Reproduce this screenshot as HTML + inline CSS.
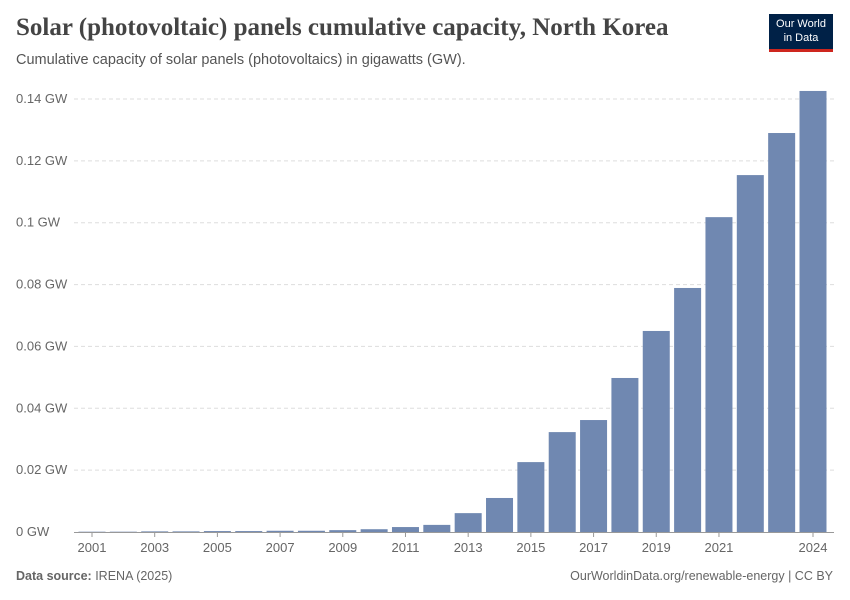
<!DOCTYPE html>
<html><head><meta charset="utf-8">
<style>
body{margin:0;background:#fff;width:850px;height:600px;overflow:hidden;font-family:"Liberation Sans",sans-serif;}
.title{position:absolute;left:16px;top:14px;font-family:"Liberation Serif",serif;font-size:25px;color:#444;font-weight:bold;}
.sub{position:absolute;left:16px;top:52px;font-size:14.5px;color:#555;}
.logo{position:absolute;left:769px;top:14px;width:64px;height:38px;background:#002147;color:#fff;font-size:11px;text-align:center;line-height:14px;padding-top:3px;box-sizing:border-box;border-bottom:3px solid #ce261e;}
.foot{position:absolute;top:569px;font-size:12.5px;color:#666;}
</style></head><body>
<div class="title">Solar (photovoltaic) panels cumulative capacity, North Korea</div>
<div class="sub">Cumulative capacity of solar panels (photovoltaics) in gigawatts (GW).</div>
<div class="logo">Our World<br>in Data</div>
<div class="foot" style="left:16px"><b>Data source:</b> IRENA (2025)</div>
<div class="foot" style="right:17px">OurWorldinData.org/renewable-energy | CC BY</div>
<svg id="chart" width="850" height="600" style="position:absolute;left:0;top:0"></svg>
<script>
const years=[2001,2002,2003,2004,2005,2006,2007,2008,2009,2010,2011,2012,2013,2014,2015,2016,2017,2018,2019,2020,2021,2022,2023,2024];
const values=[0.0001,0.0001,0.0002,0.0002,0.0003,0.0003,0.0004,0.0004,0.0006,0.0009,0.0016,0.0023,0.0061,0.011,0.0226,0.0323,0.0362,0.0498,0.065,0.0789,0.1018,0.1154,0.129,0.1426];
const yTicks=[0,0.02,0.04,0.06,0.08,0.1,0.12,0.14];
const yTickLabels=["0 GW","0.02 GW","0.04 GW","0.06 GW","0.08 GW","0.1 GW","0.12 GW","0.14 GW"];
const xLabels=[2001,2003,2005,2007,2009,2011,2013,2015,2017,2019,2021,2024];
const svg=document.getElementById('chart');const NS='http://www.w3.org/2000/svg';
const y0=532,y1=99,vmax=0.14;
const y=v=>y0-(v/vmax)*(y0-y1);
const step=(813-92)/23;
const x=yr=>92+(yr-2001)*step;
const bw=27;
function mk(t,a){const e=document.createElementNS(NS,t);for(const k in a)e.setAttribute(k,a[k]);svg.appendChild(e);return e;}
yTicks.forEach((v,i)=>{
 if(v>0){const l=mk('line',{x1:74,x2:834,y1:y(v),y2:y(v),stroke:'#ddd','stroke-dasharray':'4,3'});
 
 }
 const t=mk('text',{x:16,y:y(v)+4,'font-size':13,fill:'#666'});t.textContent=yTickLabels[i];
 
 
});
years.forEach((yr,i)=>{
 const r=mk('rect',{x:x(yr)-bw/2,y:y(values[i]),width:bw,height:y0-y(values[i]),fill:'#7088b1'});
 
 
});
const ax=mk('line',{x1:74,x2:834,y1:y0+0.5,y2:y0+0.5,stroke:'#999'});


xLabels.forEach(yr=>{
 const tk=mk('line',{x1:x(yr),x2:x(yr),y1:y0,y2:y0+5,stroke:'#999'});
 
 
 const t=mk('text',{x:x(yr),y:y0+20,'font-size':13,fill:'#666','text-anchor':'middle'});t.textContent=yr;
 
 
});
</script>
</body></html>
